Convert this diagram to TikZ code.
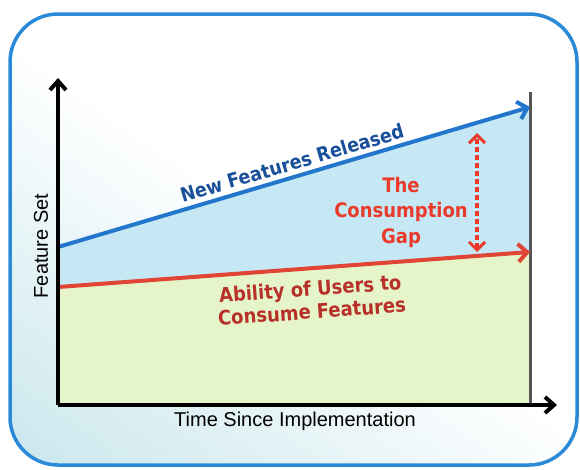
\documentclass[tikz,border=0pt]{standalone}
\usepackage{fontspec}
\setmainfont{Liberation Sans}
\newfontfamily\boldfam{DejaVu Sans Condensed}
\usetikzlibrary{arrows.meta}
\definecolor{frameblue}{HTML}{2A8AD8}
\definecolor{lineblue}{HTML}{2277CC}
\definecolor{textblue}{HTML}{1A4F9A}
\definecolor{linered}{HTML}{E04434}
\definecolor{gapred}{HTML}{EA3A2A}
\definecolor{textred}{HTML}{B8302A}
\definecolor{fillgreen}{HTML}{E6F5C9}
\definecolor{fillblue}{HTML}{C6E7F4}
\definecolor{bgteal}{HTML}{C8E6EC}
\definecolor{edgegray}{HTML}{555555}
\tikzset{
  axisline/.style={line width=4pt, black, -{Straight Barb[length=9pt,width=16pt,line width=4pt]}},
  trendblue/.style={line width=4pt, lineblue, -{Straight Barb[length=9pt,width=18pt,line width=4pt]}},
  trendred/.style={line width=4pt, linered, -{Straight Barb[length=9pt,width=18pt,line width=4pt]}},
  gaparrow/.style={line width=4pt, gapred, dash pattern=on 5pt off 3pt,
    {Straight Barb[length=8pt,width=16pt,line width=3pt]}-{Straight Barb[length=8pt,width=16pt,line width=3pt]}},
  axislabel/.style={font=\fontsize{20}{24}\selectfont, text=black, inner sep=1pt},
  boldlabel/.style={font=\boldfam\bfseries\fontsize{19.5}{24}\selectfont, align=center, inner sep=1pt}
}
\begin{document}
\begin{tikzpicture}[x=1pt,y=-1pt]
\useasboundingbox (0,0) rectangle (580,469);
% frame with background
\begin{scope}
\clip[rounded corners=48pt] (10,14) rectangle (577,465);
\shade[top color=white, bottom color=bgteal, middle color=white, shading angle=-35] (-100,-100) rectangle (680,569);
\end{scope}
\draw[frameblue, line width=3.5pt, rounded corners=48pt] (10,14) rectangle (577,465);
% coordinates
\coordinate (O) at (58,405);
\coordinate (Ytop) at (58,78);
\coordinate (Xend) at (557,405);
\coordinate (B0) at (58,247);
\coordinate (B1) at (530,107);
\coordinate (R0) at (58,287);
\coordinate (R1) at (530,252);
\coordinate (E0) at (530,92);
\coordinate (E1) at (530,405);
\coordinate (G0) at (477,133);
\coordinate (G1) at (477,252);
% fills
\fill[fillgreen] (R0) -- (R1) -- (E1) -- (O) -- cycle;
\fill[fillblue] (B0) -- (B1) -- (R1) -- (R0) -- cycle;
% right edge
\draw[edgegray, line width=3pt] (E0) -- (E1);
% trends
\draw[trendblue] (B0) -- (B1);
\draw[trendred] (R0) -- (R1);
\draw[gaparrow] (G1) -- (G0);
% axes
\draw[axisline] (O) -- (Xend);
\draw[axisline] (O) -- (Ytop);
% labels
\node[axislabel] (xlab) at (295,421) {Time Since Implementation};
\node[axislabel, rotate=90] (ylab) at (41,246) {Feature Set};
\node[boldlabel, text=textblue, rotate=16.4] (newf) at (292,163) {New Features Released};
\node[boldlabel, text=gapred, font=\boldfam\bfseries\fontsize{20}{25.5}\selectfont] (gap) at (401,212) {The\\Consumption\\Gap};
\node[boldlabel, text=textred, rotate=4.2, font=\boldfam\bfseries\fontsize{20}{23}\selectfont] (abil) at (311,300) {Ability of Users to\\Consume Features};
\end{tikzpicture}
\end{document}
